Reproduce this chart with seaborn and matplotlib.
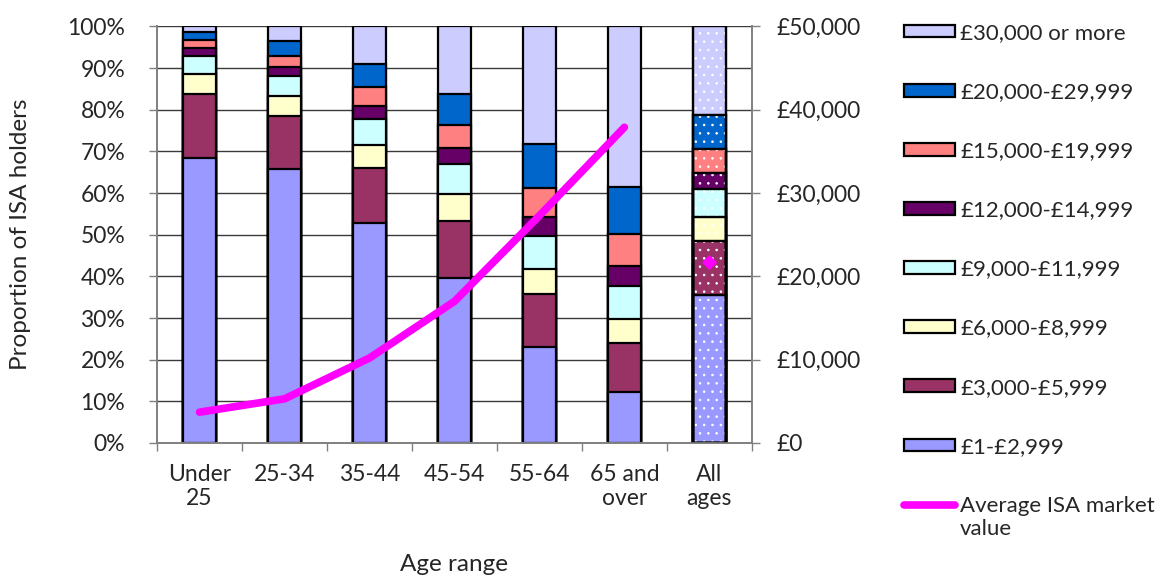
import numpy as np
import matplotlib
matplotlib.use("Agg")
import matplotlib.pyplot as plt
from matplotlib.patches import Patch, Rectangle
from matplotlib.lines import Line2D
from matplotlib.legend_handler import HandlerLine2D
from matplotlib.ticker import FuncFormatter, MultipleLocator
import seaborn as sns

# ---- data -------------------------------------------------------------
age_groups = ["Under\n25", "25-34", "35-44", "45-54", "55-64", "65 and\nover", "All\nages"]

bands = ["£1-£2,999", "£3,000-£5,999", "£6,000-£8,999", "£9,000-£11,999",
         "£12,000-£14,999", "£15,000-£19,999", "£20,000-£29,999", "£30,000 or more"]

# share of ISA holders (%) in each market-value band, per age range
share_1_2999 = [68.4, 65.8, 52.8, 39.5, 23.0, 12.2, 35.5]
share_3000_5999 = [15.4, 12.6, 13.1, 13.8, 12.8, 11.7, 12.9]
share_6000_8999 = [4.8, 4.9, 5.7, 6.5, 6.0, 5.9, 5.8]
share_9000_11999 = [4.4, 4.9, 6.3, 7.2, 8.0, 7.8, 6.8]
share_12000_14999 = [1.8, 2.0, 3.1, 3.8, 4.4, 4.8, 3.8]
share_15000_19999 = [2.0, 2.8, 4.4, 5.5, 7.0, 7.8, 5.8]
share_20000_29999 = [1.8, 3.5, 5.6, 7.5, 10.5, 11.2, 8.1]
share_30000_plus = [1.4, 3.5, 9.0, 16.2, 28.3, 38.6, 21.3]

# average ISA market value (£) for each age range, and for all ages
avg_value = [3700, 5300, 10200, 17000, 27300, 37900]
avg_value_all = 21700

band_colors = ["#9999FF", "#993366", "#FFFFCC", "#CCFFFF",
               "#660066", "#FF8080", "#0066CC", "#CCCCFF"]
line_color = "#FF00FF"

# ---- style ------------------------------------------------------------
sns.set_theme(style="white")
plt.rcParams["font.family"] = ["Lato", "DejaVu Sans"]
TICK_FS = 16.5
LABEL_FS = 17.5
LEGEND_FS = 16
plt.rcParams["font.size"] = TICK_FS
plt.rcParams["hatch.linewidth"] = 0.6

shares = np.array([share_1_2999, share_3000_5999, share_6000_8999, share_9000_11999,
                   share_12000_14999, share_15000_19999, share_20000_29999, share_30000_plus])
cumulative = shares.cumsum(axis=0)

fig, ax = plt.subplots(figsize=(11.55, 5.75), dpi=100)
fig.subplots_adjust(left=0.136, right=0.651, bottom=0.2296, top=0.954)

# stacked bars: draw cumulative totals from the top band down
for i in range(len(bands) - 1, -1, -1):
    sns.barplot(x=age_groups, y=cumulative[i], color=band_colors[i], width=0.39,
                saturation=1, edgecolor="black", linewidth=1.6, errorbar=None,
                ax=ax, zorder=2)

# dotted fill on the "All ages" column
last = len(age_groups) - 1
for p in list(ax.patches):
    cx = p.get_x() + p.get_width() / 2
    if abs(cx - last) < 0.01 and p.get_height() > 99:
        ax.add_patch(Rectangle(p.get_xy(), p.get_width(), p.get_height(),
                               facecolor="none", edgecolor="white", linewidth=0,
                               hatch="..", zorder=2.5))
        ax.add_patch(Rectangle(p.get_xy(), p.get_width(), p.get_height(),
                               facecolor="none", edgecolor="black", linewidth=1.6,
                               zorder=2.6))
# redraw the band boundaries of the dotted column on top of the dots
for p in list(ax.patches):
    cx = p.get_x() + p.get_width() / 2
    if abs(cx - last) < 0.01 and p.get_facecolor()[3] > 0 and p.get_height() < 99:
        ax.add_patch(Rectangle(p.get_xy(), p.get_width(), p.get_height(),
                               facecolor="none", edgecolor="black", linewidth=1.6,
                               zorder=2.6))

ax.set_ylim(0, 100)
ax.yaxis.set_major_locator(MultipleLocator(10))
ax.yaxis.set_major_formatter(FuncFormatter(lambda v, _: f"{v:.0f}%"))
ax.yaxis.grid(True, color="#3a3a3a", linewidth=1.0, zorder=0)
ax.set_axisbelow(True)

# category boundaries carry the tick marks, labels sit at the centres
ax.set_xlim(-0.5, len(age_groups) - 0.5)
ax.set_xticks(np.arange(-0.5, len(age_groups), 1))
ax.set_xticklabels([])
ax.set_xticks(np.arange(len(age_groups)), minor=True)
ax.set_xticklabels(age_groups, minor=True)
ax.tick_params(axis="x", which="major", direction="out", length=6, width=1,
               color="#808080", bottom=True)
ax.tick_params(axis="x", which="minor", length=0, pad=15, labelsize=TICK_FS)
ax.tick_params(axis="y", direction="out", length=6, width=1, color="#808080",
               left=True, pad=17, labelsize=TICK_FS)

for side in ["left", "bottom", "right", "top"]:
    ax.spines[side].set_color("#808080")
    ax.spines[side].set_linewidth(1.2)
ax.spines["top"].set_visible(False)

ax.set_xlabel("Age range", fontsize=LABEL_FS, labelpad=32)
ax.set_ylabel("Proportion of ISA holders", fontsize=LABEL_FS, labelpad=26)

# average value on a secondary £ axis
ax2 = ax.twinx()
sns.lineplot(x=age_groups[:6], y=avg_value, ax=ax2, color=line_color, linewidth=5.5,
             solid_capstyle="round", sort=False, zorder=5)
sns.scatterplot(x=[age_groups[last]], y=[avg_value_all], ax=ax2, color=line_color,
                marker="D", s=60, linewidth=0, zorder=6)
ax2.set_ylim(0, 50000)
ax2.yaxis.set_major_locator(MultipleLocator(10000))
ax2.yaxis.set_major_formatter(FuncFormatter(lambda v, _: f"£{v:,.0f}"))
ax2.tick_params(axis="y", direction="out", length=6, width=1, color="#808080",
                right=True, pad=12, labelsize=TICK_FS)
ax2.set_ylabel("")
ax2.set_xlabel("")
for side in ["left", "bottom", "right", "top"]:
    ax2.spines[side].set_color("#808080")
    ax2.spines[side].set_linewidth(1.2)
ax2.spines["top"].set_visible(False)
ax2.set_xlim(-0.5, len(age_groups) - 0.5)


class RaisedLine(HandlerLine2D):
    """Line handle aligned with the first line of a two-line label."""
    def create_artists(self, legend, orig_handle, xdescent, ydescent, width,
                       height, fontsize, trans):
        artists = super().create_artists(legend, orig_handle, xdescent, ydescent,
                                         width, height, fontsize, trans)
        for a in artists:
            a.set_ydata(np.asarray(a.get_ydata(), dtype=float) + 0.6 * fontsize)
        return artists


handles = [Patch(facecolor=band_colors[i], edgecolor="black", linewidth=1.6)
           for i in range(len(bands) - 1, -1, -1)]
labels = [bands[i] for i in range(len(bands) - 1, -1, -1)]
avg_handle = Line2D([], [], color=line_color, linewidth=5.5, solid_capstyle="round")
handles.append(avg_handle)
labels.append("Average ISA market\nvalue")

fig.legend(handles, labels, loc="upper left", bbox_to_anchor=(0.7826, 0.96),
           frameon=False, borderpad=0, borderaxespad=0, handlelength=2.3,
           handleheight=0.5, handletextpad=0.23, labelspacing=1.76, fontsize=LEGEND_FS,
           handler_map={avg_handle: RaisedLine()})

fig.savefig("out.png", dpi=100)
